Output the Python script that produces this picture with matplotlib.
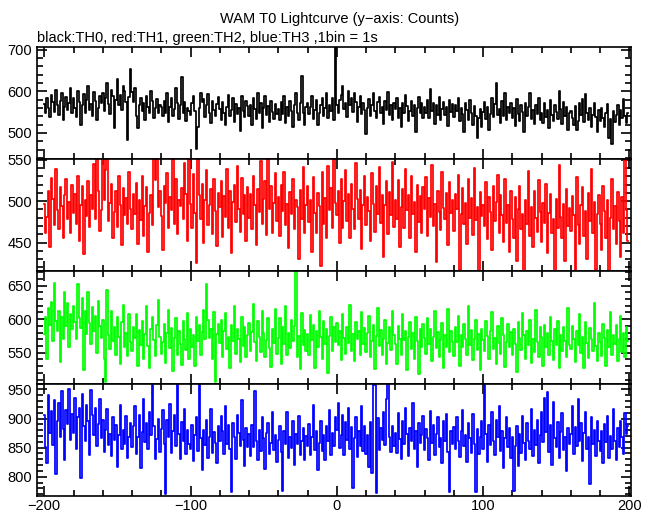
import numpy as np
import matplotlib.pyplot as plt
from matplotlib.ticker import MultipleLocator

plt.rcParams['font.family'] = ['Liberation Sans', 'DejaVu Sans']
plt.rcParams['font.size'] = 10.5

# counts per 1 s bin, first bin at t = -200 s
th0 = [570, 548, 583, 561, 539, 592, 575, 551, 603, 566, 544, 578, 597, 530, 562, 587, 556, 571, 609, 548,
       583, 559, 538, 601, 574, 520, 566, 593, 547, 580, 612, 555, 569, 541, 598, 576, 532, 560, 589, 571,
       596, 552, 584, 621, 570, 545, 603, 588, 511, 579, 630, 567, 592, 556, 614, 601, 574, 482, 586, 654,
       598, 575, 609, 541, 513, 566, 584, 552, 571, 530, 590, 563, 547, 601, 578, 536, 559, 582, 549, 568,
       562, 541, 578, 549, 595, 526, 563, 584, 540, 557, 608, 571, 533, 566, 635, 548, 575, 529, 561, 552,
       544, 571, 589, 553, 461, 515, 560, 597, 575, 582, 538, 566, 594, 549, 523, 578, 555, 541, 569, 586,
       557, 530, 574, 548, 519, 563, 592, 541, 556, 583, 527, 570, 546, 561, 505, 589, 552, 538, 577, 564,
       541, 566, 520, 583, 557, 534, 596, 549, 572, 511, 560, 588, 543, 565, 527, 578, 551, 533, 569, 546,
       558, 531, 574, 546, 589, 523, 562, 540, 577, 553, 515, 568, 595, 547, 532, 571, 638, 549, 518, 563,
       571, 545, 562, 590, 534, 556, 579, 520, 548, 566, 583, 541, 559, 597, 537, 568, 552, 584, 531, 712,
       566, 548, 580, 591, 612, 557, 573, 539, 602, 568, 585, 551, 597, 574, 526, 563, 589, 545, 571, 556,
       497, 559, 582, 541, 568, 595, 552, 537, 574, 586, 549, 563, 521, 577, 555, 598, 543, 566, 532, 571,
       557, 583, 536, 560, 515, 572, 548, 591, 564, 529, 553, 578, 541, 566, 503, 559, 586, 547, 572, 535,
       562, 548, 579, 537, 606, 553, 571, 521, 566, 544, 587, 530, 558, 575, 542, 563, 516, 580, 551, 569,
       538, 567, 552, 584, 529, 561, 545, 502, 573, 556, 532, 579, 548, 520, 565, 541, 487, 535, 557, 514,
       551, 574, 533, 562, 508, 546, 583, 538, 569, 619, 544, 557, 525, 578, 541, 596, 530, 563, 549, 572,
       536, 559, 517, 581, 545, 528, 566, 550, 503, 573, 541, 562, 597, 534, 555, 521, 568, 546, 583, 531,
       548, 525, 571, 539, 556, 512, 580, 543, 529, 566, 551, 534, 601, 557, 522, 574, 540, 563, 508, 547,
       553, 536, 519, 565, 507, 528, 571, 544, 582, 526, 594, 549, 531, 560, 515, 543, 572, 538, 502, 556,
       529, 561, 537, 515, 548, 570, 489, 533, 473, 552, 527, 544, 568, 519, 556, 535, 581, 541, 524, 548]

th1 = [497, 462, 481, 512, 445, 528, 503, 471, 539, 489, 466, 517, 494, 456, 508, 527, 479, 499, 461, 520,
       486, 509, 473, 531, 452, 495, 518, 436, 501, 482, 524, 469, 507, 491, 545, 478, 553, 513, 464, 489,
       556, 502, 538, 554, 476, 498, 521, 455, 487, 512, 469, 530, 496, 447, 516, 483, 504, 472, 535, 491,
       466, 509, 484, 522, 448, 501, 477, 530, 458, 494, 517, 439, 486, 508, 471, 552, 526, 553, 493, 512,
       482, 441, 519, 498, 534, 467, 505, 489, 551, 473, 527, 460, 502, 494, 516, 478, 546, 509, 452, 552,
       497, 468, 533, 486, 425, 555, 508, 479, 521, 449, 502, 538, 471, 495, 515, 460, 527, 488, 446, 510,
       493, 524, 457, 506, 481, 539, 468, 512, 437, 499, 520, 475, 543, 491, 463, 528, 484, 507, 452, 517,
       480, 509, 466, 531, 495, 447, 515, 487, 549, 472, 503, 525, 459, 552, 490, 518, 462, 498, 534, 476,
       505, 458, 520, 488, 536, 471, 497, 443, 511, 484, 527, 466, 501, 493, 430, 514, 479, 541, 462, 496,
       518, 475, 502, 439, 529, 486, 461, 510, 494, 421, 535, 472, 504, 456, 543, 489, 516, 467, 553, 498,
       483, 512, 449, 527, 468, 500, 538, 476, 509, 455, 521, 491, 466, 546, 503, 479, 514, 442, 496, 530,
       471, 505, 488, 452, 534, 497, 463, 519, 485, 541, 474, 508, 433, 496, 525, 460, 511, 483, 547, 469,
       502, 478, 526, 445, 493, 515, 467, 539, 489, 508, 456, 531, 484, 499, 438, 520, 475, 506, 462, 517,
       490, 529, 458, 504, 481, 544, 470, 497, 426, 513, 487, 465, 536, 492, 478, 510, 447, 523, 486, 501,
       464, 509, 491, 532, 417, 485, 516, 473, 498, 448, 527, 480, 504, 459, 540, 477, 493, 412, 511, 482,
       496, 470, 523, 454, 505, 487, 441, 518, 476, 499, 532, 462, 508, 483, 451, 527, 474, 495, 438, 513,
       479, 456, 505, 428, 490, 519, 466, 484, 410, 501, 472, 537, 458, 493, 445, 512, 480, 463, 526, 487,
       451, 498, 474, 521, 437, 486, 509, 462, 479, 416, 503, 468, 544, 481, 455, 497, 427, 515, 470, 492,
       464, 506, 483, 411, 529, 471, 448, 495, 517, 458, 488, 430, 510, 476, 539, 462, 499, 417, 485, 508,
       473, 441, 519, 488, 455, 502, 413, 480, 527, 466, 494, 448, 511, 476, 433, 505, 462, 556, 489, 452]

th2 = [578, 603, 541, 617, 592, 625, 568, 654, 597, 583, 612, 536, 603, 571, 641, 590, 624, 558, 607, 585,
       619, 596, 570, 653, 601, 587, 631, 525, 612, 578, 640, 594, 563, 618, 583, 605, 549, 627, 590, 572,
       598, 541, 506, 644, 576, 556, 612, 568, 589, 547, 603, 573, 534, 596, 621, 559, 580, 545, 607, 566,
       553, 589, 572, 608, 531, 584, 562, 597, 541, 578, 619, 560, 527, 586, 603, 569, 545, 591, 628, 574,
       548, 566, 593, 535, 579, 614, 557, 587, 523, 572, 601, 546, 583, 563, 532, 597, 570, 554, 609, 541,
       586, 559, 577, 531, 603, 568, 592, 547, 581, 614, 571, 652, 599, 572, 585, 540, 611, 506, 578, 593,
       565, 598, 543, 582, 609, 556, 574, 527, 591, 567, 619, 548, 585, 571, 536, 603, 560, 588, 543, 576,
       594, 553, 581, 622, 566, 538, 597, 573, 551, 612, 580, 544, 569, 601, 557, 529, 586, 564, 615, 548,
       572, 601, 534, 588, 563, 619, 546, 580, 557, 598, 568, 590, 671, 543, 575, 526, 609, 561, 584, 552,
       578, 547, 606, 569, 591, 528, 583, 559, 612, 574, 541, 597, 563, 586, 520, 575, 603, 552, 589, 566,
       594, 561, 583, 539, 607, 572, 548, 589, 565, 621, 553, 578, 537, 596, 570, 582, 546, 610, 563, 587,
       551, 579, 604, 543, 568, 592, 526, 575, 617, 560, 584, 547, 571, 599, 534, 565, 588, 554, 612, 576,
       563, 533, 590, 571, 547, 608, 569, 582, 525, 574, 596, 556, 579, 541, 603, 567, 518, 586, 559, 593,
       572, 548, 601, 563, 585, 537, 574, 612, 557, 581, 543, 569, 594, 528, 576, 559, 615, 551, 583, 566,
       545, 589, 566, 604, 531, 577, 558, 593, 570, 547, 620, 562, 584, 539, 571, 598, 554, 578, 525, 586,
       569, 552, 597, 575, 541, 583, 610, 556, 572, 533, 590, 564, 548, 601, 577, 529, 566, 593, 558, 581,
       547, 585, 563, 521, 596, 572, 554, 609, 576, 540, 582, 561, 598, 535, 570, 551, 614, 566, 543, 588,
       574, 531, 591, 558, 580, 546, 603, 567, 539, 585, 562, 597, 527, 576, 553, 589, 568, 544, 616, 561,
       555, 590, 570, 536, 583, 561, 607, 549, 574, 528, 596, 565, 542, 587, 571, 553, 624, 560, 538, 579,
       566, 545, 593, 572, 530, 584, 559, 611, 547, 576, 563, 592, 538, 571, 604, 551, 580, 543, 589, 568]

th3 = [906, 851, 823, 941, 876, 913, 855, 932, 804, 896, 927, 868, 947, 882, 829, 915, 890, 951, 864, 908,
       875, 936, 848, 902, 919, 797, 943, 887, 861, 924, 895, 838, 949, 906, 872, 918, 853, 891, 934, 866,
       898, 842, 881, 916, 855, 874, 836, 902, 863, 889, 817, 871, 924, 848, 880, 857, 905, 832, 869, 893,
       851, 887, 922, 839, 868, 906, 815, 877, 934, 860, 893, 847, 912, 872, 957, 888, 831, 865, 899, 843,
       882, 914, 856, 771, 897, 868, 925, 841, 879, 906, 852, 961, 873, 830, 894, 862, 917, 839, 881, 856,
       848, 889, 827, 871, 903, 845, 962, 866, 812, 880, 854, 898, 833, 869, 916, 841, 877, 858, 823, 887,
       862, 905, 878, 839, 921, 856, 889, 847, 774, 893, 868, 830, 907, 875, 852, 932, 864, 819, 884, 851,
       873, 836, 889, 851, 948, 862, 828, 881, 845, 903, 867, 814, 876, 893, 839, 858, 911, 846, 872, 826,
       864, 887, 842, 776, 879, 856, 912, 833, 868, 849, 895, 821, 873, 857, 904, 838, 862, 884, 829, 870,
       852, 891, 837, 868, 923, 846, 879, 811, 858, 896, 844, 872, 829, 887, 861, 915, 838, 876, 853, 903,
       881, 927, 849, 872, 906, 838, 894, 863, 919, 847, 885, 781, 866, 902, 834, 879, 853, 921, 845, 888,
       839, 872, 816, 894, 807, 962, 958, 772, 901, 846, 883, 863, 911, 855, 934, 965, 869, 842, 888, 852,
       876, 841, 909, 865, 831, 895, 857, 918, 873, 836, 884, 862, 927, 848, 879, 816, 892, 858, 871, 905,
       846, 882, 867, 829, 913, 858, 889, 837, 874, 902, 851, 866, 823, 895, 862, 908, 843, 773, 879, 857,
       886, 848, 903, 861, 834, 879, 914, 853, 871, 825, 893, 866, 841, 908, 857, 774, 882, 839, 869, 896,
       847, 958, 873, 826, 889, 855, 911, 862, 838, 897, 869, 921, 844, 878, 815, 866, 903, 851, 884, 832,
       869, 776, 852, 887, 818, 874, 841, 905, 858, 829, 893, 862, 847, 916, 836, 881, 855, 898, 824, 871,
       912, 859, 936, 877, 945, 843, 889, 821, 928, 866, 851, 894, 832, 877, 909, 846, 868, 810, 883, 857,
       874, 921, 839, 886, 852, 934, 861, 893, 827, 875, 912, 848, 869, 788, 903, 856, 881, 836, 895, 862,
       844, 878, 823, 891, 859, 905, 833, 870, 848, 917, 862, 829, 884, 851, 896, 868, 839, 909, 873, 887]

t_start = -200
colors = ['black', 'red', '#00ff00', 'blue']
ylims = [(437, 707), (415, 551), (504, 671), (767, 960)]
major = [100, 50, 50, 50]
minor = [20, 10, 10, 10]

fig, axes = plt.subplots(4, 1, figsize=(6.6, 5.15), dpi=100, sharex=True)
fig.subplots_adjust(left=0.056, right=0.956, top=0.909, bottom=0.037, hspace=0)

for ax, y, c, lim, mj, mn in zip(axes, [th0, th1, th2, th3], colors, ylims, major, minor):
    t = np.arange(len(y)) + t_start
    ax.step(t, y, where='mid', color=c, lw=1.25)
    ax.set_ylim(lim)
    ax.set_xlim(-205, 201)
    ax.yaxis.set_major_locator(MultipleLocator(mj))
    ax.yaxis.set_minor_locator(MultipleLocator(mn))
    ax.xaxis.set_major_locator(MultipleLocator(100))
    ax.xaxis.set_minor_locator(MultipleLocator(20))
    ax.tick_params(which='both', direction='in', top=True, right=True, width=1.2)
    ax.tick_params(which='major', length=7)
    ax.tick_params(which='minor', length=4)
    for s in ax.spines.values():
        s.set_linewidth(1.2)

axes[-1].tick_params(axis='x', pad=2)

fig.text(0.515, 0.963, 'WAM T0 Lightcurve (y\u2212axis: Counts)', ha='center', va='center')
fig.text(0.056, 0.927, 'black:TH0, red:TH1, green:TH2, blue:TH3 ,1bin = 1s', ha='left', va='center')

fig.savefig('out.png', dpi=100)
